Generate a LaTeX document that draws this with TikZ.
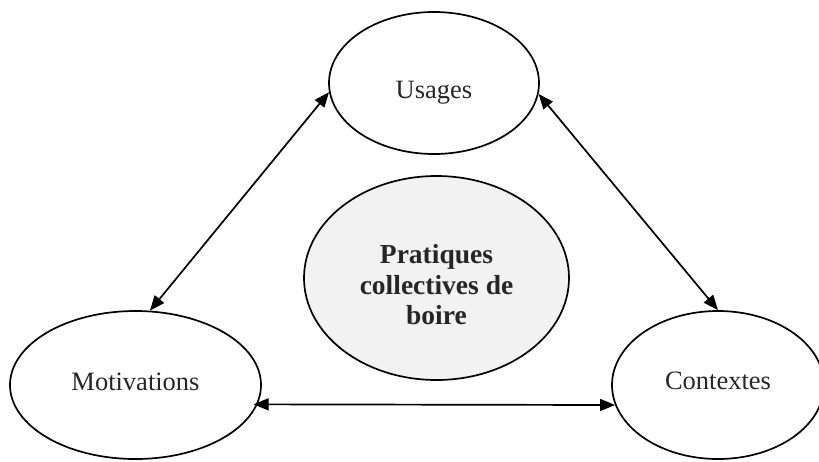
\documentclass[tikz,border=0pt]{standalone}
\usepackage{fontspec}
\setmainfont{Liberation Serif}
\usetikzlibrary{shapes.geometric,arrows.meta}
\definecolor{txt}{RGB}{38,38,38}
\definecolor{lightfill}{RGB}{242,242,242}
\tikzset{
  oval/.style={ellipse, draw=black, line width=1.7pt, inner sep=0pt, text=txt,
    font=\fontsize{26.5}{30}\selectfont},
  centreoval/.style={oval, fill=lightfill, align=center,
    font=\fontsize{27.5}{30.5}\selectfont\bfseries},
  biarrow/.style={line width=1.7pt, {Triangle[length=15pt,width=12pt]}-{Triangle[length=15pt,width=12pt]}}
}
\begin{document}
\begin{tikzpicture}[x=1pt,y=-1pt]
\useasboundingbox (0,0) rectangle (819,461);
\node[oval, minimum width=210pt, minimum height=142pt, text height=35pt, text depth=5pt] (usages) at (434,83) {Usages};
\node[oval, minimum width=251pt, minimum height=148pt, text height=18pt, text depth=8pt] (motiv) at (135.5,385) {Motivations};
\node[oval, minimum width=212pt, minimum height=148pt, text height=18pt, text depth=10pt] (ctx) at (718,385) {Contextes};
\node[centreoval, minimum width=265pt, minimum height=204pt] (centre) at (436.5,278) {\rule{0pt}{33pt}Pratiques\\collectives de\\boire};
\draw[biarrow] (usages.185) -- (motiv.79);
\draw[biarrow] (usages.354.6) -- (ctx.90.7);
\draw[biarrow, shorten <=-4pt] (motiv.-9.5) -- (ctx.191.7);
\end{tikzpicture}
\end{document}
